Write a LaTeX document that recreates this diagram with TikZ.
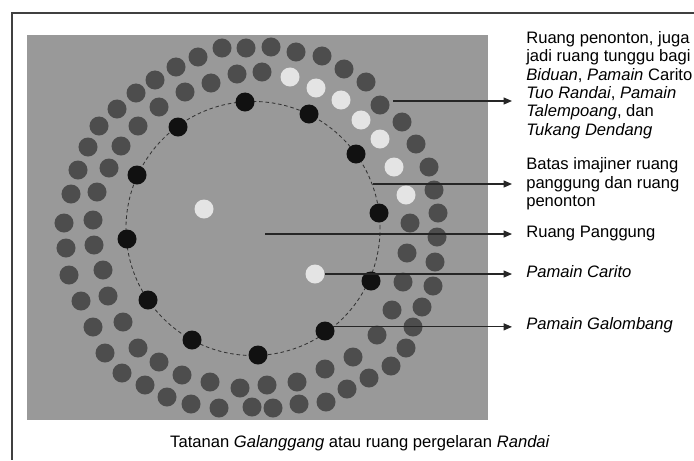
\documentclass[tikz,border=0pt]{standalone}
\usepackage{fontspec}
\setmainfont{Liberation Sans}
\usetikzlibrary{arrows.meta}
\definecolor{stagegray}{HTML}{999999}
\definecolor{seatgray}{HTML}{4D4D4D}
\definecolor{dotblack}{HTML}{111111}
\definecolor{dotwhite}{HTML}{E4E4E4}
\tikzset{
	seatstyle/.style={circle,inner sep=0pt,minimum size=0.475cm,fill=seatgray},
	lightstyle/.style={circle,inner sep=0pt,minimum size=0.475cm,fill=dotwhite},
	darkstyle/.style={circle,inner sep=0pt,minimum size=0.475cm,fill=dotblack},
	labelstyle/.style={anchor=west,align=left,inner xsep=0.35cm,inner ysep=0pt,font=\fontsize{11.8}{13.1}\selectfont},
	pointerstyle/.style={draw=black!85,line width=0.8pt,-{Triangle[length=6pt,width=5pt]}},
	borderstyle/.style={draw=black!80,dashed,line width=0.6pt,dash pattern=on 2.5pt off 2pt}
}

\begin{document}
\begin{tikzpicture}[x=0.025cm,y=-0.025cm]
	\fontsize{11.8}{13.1}\selectfont
	\useasboundingbox (0,0) rectangle (694,460);
	\draw[black!75,line width=0.8pt] (694,13) -- (12,13) -- (12,460);
	\fill[stagegray] (27,35) rectangle (488,420);
	\foreach \p [count=\i] in {(438,213),(437,237),(435,262),(433,286),(422,307),(413,327),(406,348),(391,366),
		(369,378),(347,389),(326,402),(299,404),(273,408),(252,407),(219,408),(191,404),(167,397),(145,385),
		(122,373),(105,353),(93,327),(81,301),(69,275),(66,248),(64,223),(71,194),(78,170),(88,147),(99,126),
		(117,109),(136,93),(155,80),(176,67),(198,57),(222,48),(246,48),(271,47),(296,52),(322,56),(344,69),
		(366,82),(380,105),(402,122),(416,144),(429,167),(434,190)}
		\node[seatstyle] (o\i) at \p {};
	\foreach \p [count=\i] in {(262,72),(237,74),(211,83),(185,92),(159,107),(138,126),(121,146),(109,168),
		(97,192),(93,220),(94,245),(103,270),(108,296),(123,322),(138,348),(159,362),(182,375),(210,382),
		(240,388),(267,385),(297,382),(325,369),(353,357),(377,335),(392,310),(403,282),(407,253),(410,223)}
		\node[seatstyle] (i\i) at \p {};
	\foreach \p [count=\i] in {(290,77),(316,88),(341,100),(361,120),(380,139),(394,167),(406,195),(315,274),(204,209)}
		\node[lightstyle] (w\i) at \p {};
	\coordinate (cc) at (253,228.5);
	\draw[borderstyle] (cc) circle [radius=3.175cm];
	\foreach \p [count=\i] in {(245,102),(309,114),(356,154),(379,213),(371,281),(325,331),
		(258,355),(192,340),(148,300),(127,239),(137,175),(178,127)}
		\node[darkstyle] (g\i) at \p {};
	\node[labelstyle] (lseat) at (512,85) {Ruang penonton, juga\\jadi ruang tunggu bagi\\\textit{Biduan}, \textit{Pamain} Carito\\\textit{Tuo Randai}, \textit{Pamain}\\\textit{Talempoang}, dan\\\textit{Tukang Dendang}};
	\node[labelstyle] (lbound) at (512,184) {Batas imajiner ruang\\panggung dan ruang\\penonton};
	\node[labelstyle] (lstage) at (512,234) {Ruang Panggung};
	\node[labelstyle] (lcarito) at (512,272) {\textit{Pamain Carito}};
	\node[labelstyle] (lgalo) at (512,325) {\textit{Pamain Galombang}};
	\node (capt) at (360,443) {Tatanan \textit{Galanggang} atau ruang pergelaran \textit{Randai}};
	\coordinate (sp) at (393,101);
	\coordinate (bd) at (373,184);
	\coordinate (st) at (265,234);
	\draw[pointerstyle] (sp) -- (sp -| lseat.west);
	\draw[pointerstyle] (bd) -- (bd -| lbound.west);
	\draw[pointerstyle] (st) -- (st -| lstage.west);
	\draw[pointerstyle] (w8.east) -- (w8.east -| lcarito.west);
	\draw[pointerstyle] (g6.25) -- (g6.25 -| lgalo.west);
\end{tikzpicture}
\end{document}
